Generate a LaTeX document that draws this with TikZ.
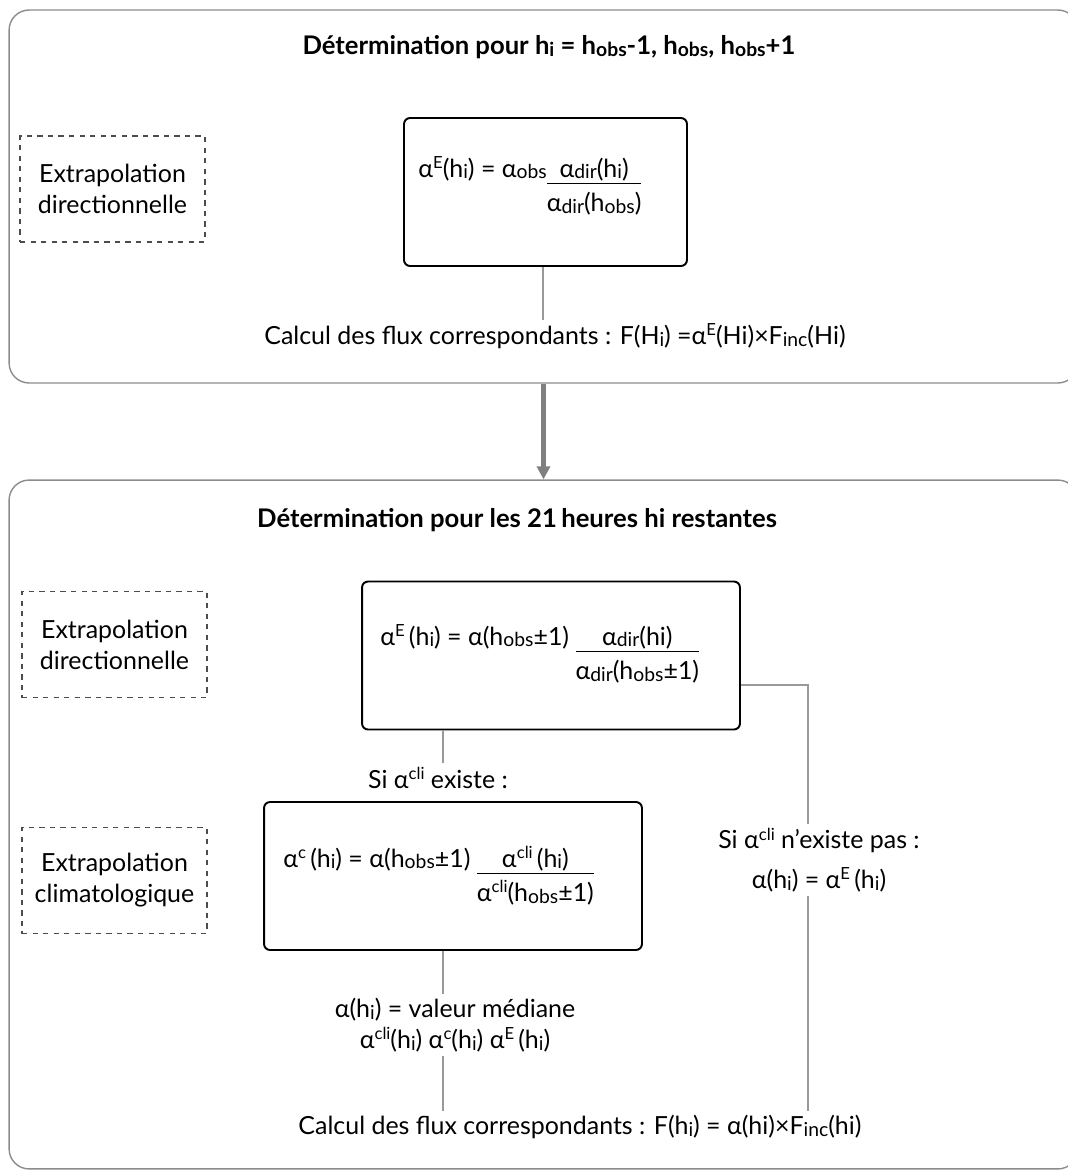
\documentclass[tikz,border=0pt]{standalone}
\usepackage{fontspec}
\setmainfont{Lato}
\usetikzlibrary{positioning,arrows.meta}
\newcommand{\subtx}[1]{\raisebox{-0.15ex}{\fontsize{11}{11}\selectfont #1}}
\newcommand{\suptx}[1]{\raisebox{0.7ex}{\fontsize{9.5}{10}\selectfont #1}}
\newcommand{\frc}[2]{\begin{tabular}[t]{@{}c@{}}#1\\[-2pt]\hline\rule{0pt}{16pt}#2\end{tabular}}

\begin{document}
\begin{tikzpicture}[
    x=0.02cm, y=-0.02cm,
    every node/.style={font=\fontsize{14.2}{17.6}\selectfont, text=black},
    frame/.style={rectangle, draw=black!45, line width=0.8pt, rounded corners=0.4cm},
    fbox/.style={rectangle, draw=black, line width=1.1pt, rounded corners=0.12cm, minimum width=7.56cm, minimum height=2.96cm},
    dbox/.style={rectangle, draw=black!70, dashed, line width=0.6pt, minimum width=3.7cm, minimum height=2.12cm, align=center},
    txt/.style={inner sep=2pt, align=center},
    link/.style={draw=black!40, line width=0.7pt},
    arrow/.style={-{Triangle[length=0.26cm,width=0.26cm]}, draw=black!50, line width=2.3pt}
]
    \useasboundingbox (0,0) rectangle (1068,1171);

    % frames
    \node[frame, minimum width=21.38cm, minimum height=7.46cm] (top) at (543.5,196.5) {};
    \node[frame, minimum width=21.38cm, minimum height=13.78cm] (bot) at (543.5,824.5) {};
    \draw[arrow] (top.south) -- (bot.north);

    % first step
    \node[txt, font=\fontsize{14.6}{17.6}\selectfont\bfseries] (t1) at (549,47) {Détermination pour h\subtx{i} = h\subtx{obs}-1, h\subtx{obs}, h\subtx{obs}+1};
    \node[dbox] (d1) at (112.5,189) {Extrapolation\\directionnelle};
    \node[fbox, minimum width=5.66cm] (e1) at (545.5,192) {};
    \node[anchor=base west, inner sep=0pt] (f1) at (418,177) {α\suptx{E}(h\subtx{i}) = α\subtx{obs}\frc{α\subtx{dir}(h\subtx{i})}{α\subtx{dir}(h\subtx{obs})}};
    \node[txt] (c1) at (555,336) {Calcul des flux correspondants : F(H\subtx{i}) =α\suptx{E}(Hi)×F\subtx{inc}(Hi)};
    \draw[link] (e1.south -| 543,0) -- (543,0 |- c1.north);

    % second step
    \node[txt, font=\fontsize{14.6}{17.6}\selectfont\bfseries] (t2) at (517,520) {Détermination pour les 21\,heures hi restantes};
    \node[dbox] (d2) at (114.5,644.5) {Extrapolation\\directionnelle};
    \node[fbox] (e2) at (551,655.5) {};
    \node[anchor=base west, inner sep=0pt] (f2) at (380,645) {α\suptx{E}\,(h\subtx{i}) = α(h\subtx{obs}±1) \frc{α\subtx{dir}(hi)}{α\subtx{dir}(h\subtx{obs}±1)}};
    \node[txt] (s1) at (438,778) {Si α\suptx{cli} existe :};
    \node[dbox] (d3) at (114.5,880.5) {Extrapolation\\climatologique};
    \node[fbox] (e3) at (453,876) {};
    \node[anchor=base west, inner sep=0pt] (f3) at (283,867) {α\suptx{c}\,(h\subtx{i}) = α(h\subtx{obs}±1) \frc{α\suptx{cli}\,(h\subtx{i})}{α\suptx{cli}(h\subtx{obs}±1)}};
    \node[txt] (m3) at (455,1025) {α(h\subtx{i}) = valeur médiane\\[0pt]α\suptx{cli}(h\subtx{i}) α\suptx{c}(h\subtx{i}) α\suptx{E}\,(h\subtx{i})};
    \node[txt] (n3) at (819,860) {Si α\suptx{cli} n'existe pas :\\[5pt]α(h\subtx{i}) = α\suptx{E}\,(h\subtx{i})};
    \node[txt] (c2) at (580,1127) {Calcul des flux correspondants : F(h\subtx{i}) = α(hi)×F\subtx{inc}(hi)};

    \coordinate (lx) at (443,0);
    \coordinate (turn) at (808,685);
    \draw[link] (e2.south -| lx) -- (lx |- s1.north);
    \draw[link] (e3.south -| lx) -- (lx |- m3.north);
    \draw[link] (m3.south -| lx) -- (lx |- c2.north);
    \draw[link] (e2.east |- turn) -- (turn) -- (turn |- n3.north);
    \draw[link] (n3.south -| turn) -- (turn |- c2.north);
\end{tikzpicture}
\end{document}
